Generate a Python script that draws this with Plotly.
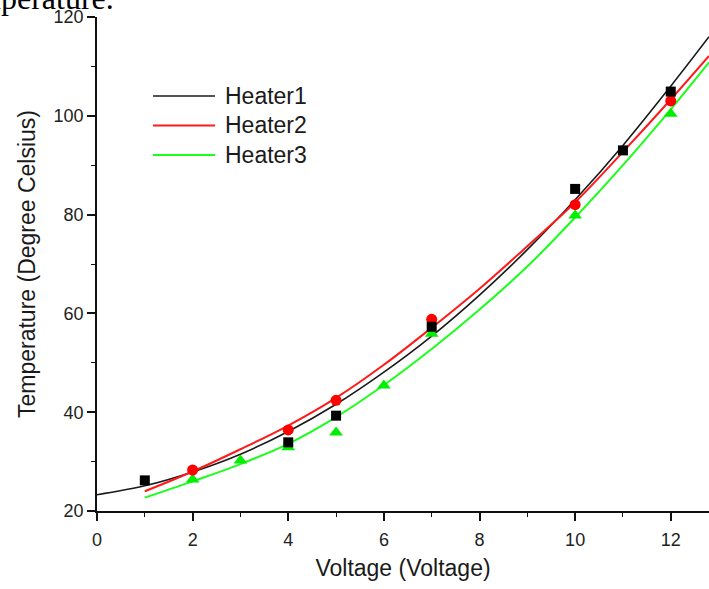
import plotly.graph_objects as go

# Measured points (Voltage, Temperature)
h1_v = [1, 4, 5, 7, 10, 11, 12]
h1_t = [26.2, 33.9, 39.3, 57.3, 85.2, 93.0, 104.9]
h2_v = [2, 4, 5, 7, 10, 12]
h2_t = [28.3, 36.4, 42.4, 58.8, 82.0, 103.0]
h3_v = [2, 3, 4, 5, 6, 7, 10, 12]
h3_t = [26.4, 30.2, 32.9, 35.9, 45.4, 55.9, 79.8, 100.4]

# Fitted curves
fit1_v = [0, 1, 2, 3, 4, 5, 6, 7, 8, 9, 10, 11, 12, 12.8]
fit1_t = [23.3, 25.1, 27.9, 31.5, 36.1, 41.6, 48.1, 55.4, 63.7, 72.9, 83.0, 94.0, 106.0, 116.0]
fit23_v = [1, 2, 3, 4, 5, 6, 7, 8, 9, 10, 11, 12, 12.8]
fit2_t = [24.0, 28.0, 32.5, 37.3, 42.9, 49.6, 57.1, 65.0, 73.6, 82.5, 92.7, 103.3, 112.1]
fit3_t = [22.7, 26.0, 29.5, 33.6, 39.0, 45.5, 52.8, 60.8, 69.5, 79.4, 90.0, 101.3, 110.8]

names = ["Heater1", "Heater2", "Heater3"]
colors = ["#1a1a1a", "#ff1a1a", "#1aff1a"]
widths = [1.6, 2, 2]

fig = go.Figure()
fig.add_trace(go.Scatter(x=fit1_v, y=fit1_t, mode="lines", name=names[0], showlegend=False,
                         line=dict(color=colors[0], width=widths[0], shape="spline")))
fig.add_trace(go.Scatter(x=fit23_v, y=fit2_t, mode="lines", name=names[1], showlegend=False,
                         line=dict(color=colors[1], width=widths[1], shape="spline")))
fig.add_trace(go.Scatter(x=fit23_v, y=fit3_t, mode="lines", name=names[2], showlegend=False,
                         line=dict(color=colors[2], width=widths[2], shape="spline")))

fig.add_trace(go.Scatter(x=h3_v, y=h3_t, mode="markers", name=names[2], showlegend=False,
                         marker=dict(symbol="triangle-up", size=12, color="#00ee00")))
fig.add_trace(go.Scatter(x=h2_v, y=h2_t, mode="markers", name=names[1], showlegend=False,
                         marker=dict(symbol="circle", size=11, color="#ff0000")))
fig.add_trace(go.Scatter(x=h1_v, y=h1_t, mode="markers", name=names[0], showlegend=False,
                         marker=dict(symbol="square", size=10, color="#000000")))

axis_common = dict(showline=True, linecolor="#111", linewidth=1.6, showgrid=False,
                   zeroline=False, ticks="outside", ticklen=8, tickwidth=1.6,
                   tickcolor="#111", automargin=False,
                   tickfont=dict(family="Arial, Liberation Sans", size=18, color="#222"))

fig.update_xaxes(range=[0, 12.8], dtick=2, tick0=0, ticklabelstandoff=4,
                 minor=dict(dtick=1, ticks="outside", ticklen=4, tickwidth=1.4, tickcolor="#111"),
                 title=dict(text="Voltage (Voltage)", standoff=10,
                            font=dict(family="Arial, Liberation Sans", size=23, color="#1a1a1a")),
                 **axis_common)
fig.update_yaxes(range=[20, 120], dtick=20, tick0=20,
                 minor=dict(dtick=10, ticks="outside", ticklen=4, tickwidth=1.4, tickcolor="#111"),
                 title=dict(text="Temperature (Degree Celsius)", standoff=12,
                            font=dict(family="Arial, Liberation Sans", size=23, color="#1a1a1a")),
                 **axis_common)

# cut-off text from the surrounding document
fig.add_annotation(text="temperature.", xref="paper", yref="paper", x=0.031, y=1.039,
                   xanchor="right", yanchor="middle", showarrow=False,
                   font=dict(family="Liberation Serif, Times New Roman", size=32, color="#000"))

# legend: long line samples with labels (as in the original)
leg_y = [0.8401, 0.7804, 0.7206]
for yy, name, c, w in zip(leg_y, names, colors, widths):
    fig.add_shape(type="line", xref="paper", yref="paper", x0=0.0915, x1=0.1928,
                  y0=yy, y1=yy, line=dict(color=c, width=w))
    fig.add_annotation(text=name, xref="paper", yref="paper", x=0.2059, y=yy,
                       xanchor="left", yanchor="middle", showarrow=False,
                       font=dict(family="Arial, Liberation Sans", size=23, color="#1a1a1a"))

fig.update_layout(
    width=709, height=589,
    margin=dict(l=97, r=0, t=17, b=78, pad=0),
    paper_bgcolor="white", plot_bgcolor="white",
    showlegend=False,
)

fig.write_html("out.html", config={"displayModeBar": False},
               post_script="document.body.style.margin='0px';document.body.style.overflow='hidden';")
